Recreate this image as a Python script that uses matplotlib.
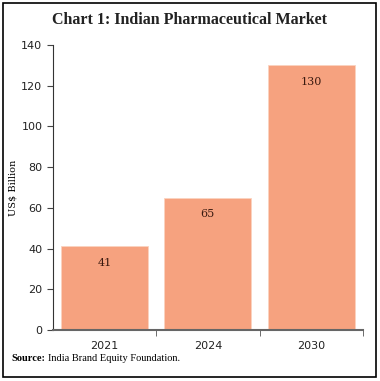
import matplotlib.pyplot as plt
from matplotlib.patches import Rectangle
from matplotlib.ticker import FixedLocator

years = ['2021', '2024', '2030']
market = [41, 65, 130]

fig = plt.figure(figsize=(3.8, 3.81), dpi=100)
fig.patches.append(Rectangle((0.008, 0.01), 0.982, 0.983, transform=fig.transFigure,
                             fill=False, edgecolor='black', linewidth=1.2))

ax = fig.add_axes([0.139, 0.134, 0.816, 0.748])
x = list(range(len(years)))
bars = ax.bar(x, market, width=0.84, color='#F6A27F', edgecolor='#FBD3C0', linewidth=0.6)

for xi, v in zip(x, market):
    ax.annotate(str(v), (xi, v), xytext=(0, -12), textcoords='offset points',
                ha='center', va='center', fontsize=8, color='#3a1a10', family='DejaVu Serif')

ax.set_xlim(-0.5, 2.5)
ax.set_ylim(0, 140)
ax.set_yticks(range(0, 141, 20))
ax.set_xticks(x)
ax.set_xticklabels(years)
ax.xaxis.set_minor_locator(FixedLocator([0.5, 1.5, 2.5]))
ax.tick_params(axis='x', which='major', length=0, labelsize=8, pad=8, colors='#222222')
ax.tick_params(axis='x', which='minor', length=4, direction='out', color='#555555')
ax.tick_params(axis='y', length=4, direction='out', labelsize=8, colors='#222222', color='#444444')
for s in ['top', 'right']:
    ax.spines[s].set_visible(False)
ax.spines['left'].set_color('#333333')
ax.spines['bottom'].set_color('#666666')
ax.spines['bottom'].set_linewidth(1.5)
ax.set_ylabel('US$ Billion', family='DejaVu Serif', fontsize=7)
ax.yaxis.set_label_coords(-0.113, 0.5)

fig.text(0.5, 0.948, 'Chart 1: Indian Pharmaceutical Market', ha='center', va='center',
         fontsize=11.5, fontweight='bold', family='Liberation Serif', color='#222222')
fig.text(0.03, 0.06, 'Source:', ha='left', va='center', fontsize=7.5, fontweight='bold',
         family='Liberation Serif')
fig.text(0.126, 0.06, 'India Brand Equity Foundation.', ha='left', va='center', fontsize=7.5,
         family='Liberation Serif')

fig.savefig('out.png', dpi=100)
